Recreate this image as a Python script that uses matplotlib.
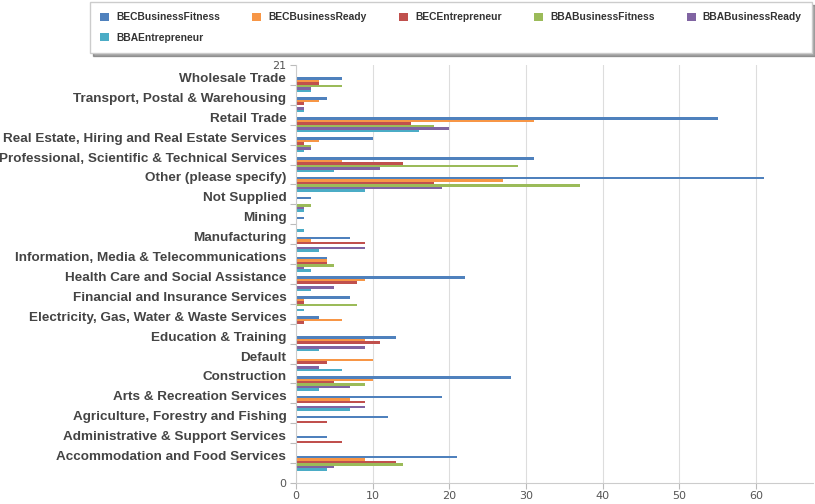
import numpy as np
import matplotlib.pyplot as plt

# industries, listed bottom to top as they sit on the y axis
industries = [
    "Accommodation and Food Services",
    "Administrative & Support Services",
    "Agriculture, Forestry and Fishing",
    "Arts & Recreation Services",
    "Construction",
    "Default",
    "Education & Training",
    "Electricity, Gas, Water & Waste Services",
    "Financial and Insurance Services",
    "Health Care and Social Assistance",
    "Information, Media & Telecommunications",
    "Manufacturing",
    "Mining",
    "Not Supplied",
    "Other (please specify)",
    "Professional, Scientific & Technical Services",
    "Real Estate, Hiring and Real Estate Services",
    "Retail Trade",
    "Transport, Postal & Warehousing",
    "Wholesale Trade",
]

bec_business_fitness = [21, 4, 12, 19, 28, 0, 13, 3, 7, 22, 4, 7, 1, 2, 61, 31, 10, 55, 4, 6]
bec_business_ready = [9, 0, 0, 7, 10, 10, 9, 6, 1, 9, 4, 2, 0, 0, 27, 6, 3, 31, 3, 3]
bec_entrepreneur = [13, 6, 4, 9, 5, 4, 11, 1, 1, 8, 4, 9, 0, 0, 18, 14, 1, 15, 1, 3]
bba_business_fitness = [14, 0, 0, 0, 9, 0, 0, 0, 8, 0, 5, 0, 0, 2, 37, 29, 2, 18, 0, 6]
bba_business_ready = [5, 0, 0, 9, 7, 3, 9, 0, 0, 5, 1, 9, 0, 1, 19, 11, 2, 20, 1, 2]
bba_entrepreneur = [4, 0, 0, 7, 3, 6, 3, 0, 1, 2, 2, 3, 1, 1, 9, 5, 1, 16, 1, 2]

series_names = ["BECBusinessFitness", "BECBusinessReady", "BECEntrepreneur",
                "BBABusinessFitness", "BBABusinessReady", "BBAEntrepreneur"]
series = [bec_business_fitness, bec_business_ready, bec_entrepreneur,
          bba_business_fitness, bba_business_ready, bba_entrepreneur]
colors = ["#4f81bd", "#f79646", "#c0504d", "#9bbb59", "#8064a2", "#4bacc6"]

fig = plt.figure(figsize=(8.15, 5.04), dpi=100)
ax = fig.add_axes([296 / 815, 21 / 504, 1 - 296 / 815 - 0.002, (483 - 65) / 504])

pos = np.arange(1, len(industries) + 1)
bar_h = 0.125
handles = []
for i, (name, vals, col) in enumerate(zip(series_names, series, colors)):
    offset = 0.3125 - i * bar_h
    b = ax.barh(pos + offset, vals, height=bar_h, color=col, label=name, zorder=2)
    handles.append(b)

ax.set_ylim(0, 21)
ax.set_xlim(0, 67.5)
ax.set_xticks(range(0, 61, 10))
ax.grid(axis="x", color="#dddddd", linewidth=0.8, zorder=0)

ticks = [0] + list(pos) + [21]
ax.set_yticks(ticks)
ax.set_yticklabels(["0"] + industries + ["21"])
for lbl in ax.get_yticklabels()[1:-1]:
    lbl.set_verticalalignment("bottom")
    lbl.set_fontweight("bold")
    lbl.set_fontfamily("Liberation Sans")
    lbl.set_fontsize(9.7)
    lbl.set_color("#444444")
for lbl in [ax.get_yticklabels()[0], ax.get_yticklabels()[-1]] + ax.get_xticklabels():
    lbl.set_color("#555555")
    lbl.set_fontsize(8)

ax.tick_params(axis="y", length=4, color="#bbbbbb", pad=3)
ax.tick_params(axis="x", length=4, color="#bbbbbb", pad=2)
for side in ["top", "right"]:
    ax.spines[side].set_visible(False)
for side in ["left", "bottom"]:
    ax.spines[side].set_color("#cccccc")

# legend filled row by row: put the last entry under the first column
order = [0, 5, 1, 2, 3, 4]
leg_h = 0.09
leg = fig.legend([handles[k] for k in order], [series_names[k] for k in order],
                 ncol=5, loc="upper left", mode="expand",
                 bbox_to_anchor=(90 / 815, 1 - 2 / 504 - leg_h, 722 / 815, leg_h),
                 borderaxespad=0,
                 prop={"family": "Liberation Sans", "weight": "bold", "size": 7.4},
                 handlelength=0.85, handleheight=0.85, handletextpad=0.7,
                 labelspacing=1.0, borderpad=1.0,
                 fancybox=False, shadow=True, framealpha=1, edgecolor="#cccccc")
for t in leg.get_texts():
    t.set_color("#333333")

fig.savefig("out.png", dpi=100)
